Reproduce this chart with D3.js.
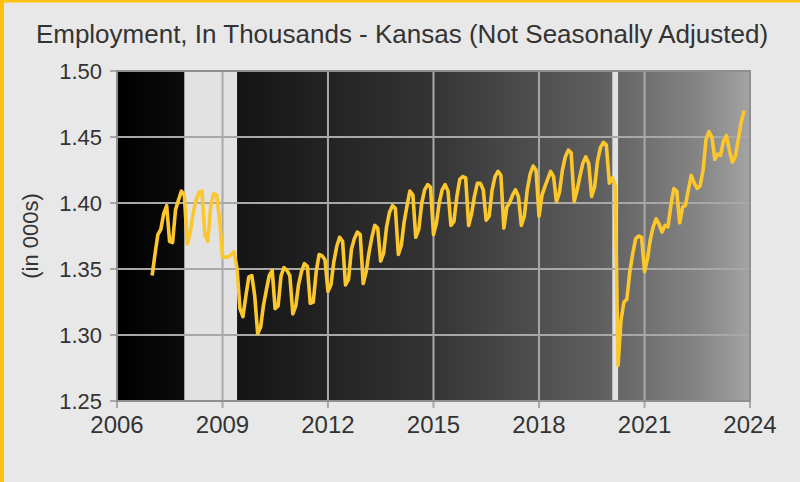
<!DOCTYPE html>
<html>
<head>
<meta charset="utf-8">
<script src="https://cdn.jsdelivr.net/npm/d3@7/dist/d3.min.js"></script>
<style>
  html, body { margin: 0; padding: 0; background: #e8e8e8; }
  svg { display: block; font-family: "Liberation Sans", Arial, sans-serif; }
</style>
</head>
<body>
<svg id="chart" width="800" height="482"></svg>
<script>
// Kansas nonfarm employment, monthly, not seasonally adjusted (millions)
const firstMonth = "2007-01";
const employment = [
  // 2007
  1.345, 1.362, 1.376, 1.380, 1.392, 1.398, 1.371, 1.370, 1.395, 1.402, 1.409, 1.406,
  // 2008
  1.369, 1.378, 1.392, 1.402, 1.408, 1.409, 1.376, 1.371, 1.398, 1.407, 1.406, 1.388,
  // 2009
  1.359, 1.359, 1.359, 1.361, 1.363, 1.350, 1.320, 1.314, 1.330, 1.344, 1.345, 1.330,
  // 2010
  1.301, 1.306, 1.322, 1.334, 1.345, 1.349, 1.320, 1.322, 1.345, 1.351, 1.349, 1.345,
  // 2011
  1.316, 1.322, 1.338, 1.348, 1.354, 1.352, 1.324, 1.325, 1.348, 1.361, 1.360, 1.357,
  // 2012
  1.333, 1.338, 1.355, 1.367, 1.374, 1.371, 1.338, 1.342, 1.365, 1.373, 1.378, 1.376,
  // 2013
  1.339, 1.348, 1.362, 1.374, 1.383, 1.381, 1.356, 1.362, 1.382, 1.393, 1.398, 1.396,
  // 2014
  1.361, 1.368, 1.385, 1.398, 1.409, 1.406, 1.374, 1.380, 1.400, 1.410, 1.414, 1.412,
  // 2015
  1.376, 1.385, 1.400, 1.410, 1.414, 1.409, 1.383, 1.386, 1.405, 1.418, 1.420, 1.419,
  // 2016
  1.383, 1.392, 1.405, 1.415, 1.415, 1.410, 1.387, 1.390, 1.410, 1.420, 1.424, 1.421,
  // 2017
  1.381, 1.397, 1.400, 1.406, 1.410, 1.405, 1.383, 1.390, 1.410, 1.422, 1.428, 1.425,
  // 2018
  1.390, 1.406, 1.412, 1.418, 1.424, 1.420, 1.401, 1.408, 1.425, 1.435, 1.440, 1.438,
  // 2019
  1.401, 1.410, 1.420, 1.430, 1.435, 1.430, 1.405, 1.412, 1.432, 1.442, 1.446, 1.444,
  // 2020
  1.415, 1.419, 1.414, 1.277, 1.311, 1.325, 1.327, 1.348, 1.362, 1.373, 1.375, 1.374,
  // 2021
  1.348, 1.358, 1.372, 1.382, 1.388, 1.384, 1.378, 1.383, 1.382, 1.398, 1.411, 1.409,
  // 2022
  1.385, 1.397, 1.398, 1.410, 1.421, 1.415, 1.411, 1.413, 1.425, 1.448, 1.454, 1.450,
  // 2023
  1.433, 1.437, 1.436, 1.447, 1.451, 1.440, 1.431, 1.435, 1.448, 1.461, 1.470
];

// Recession periods (start month, end month)
const recessions = [["2007-12", "2009-06"], ["2020-02", "2020-04"]];

const xTicks = [2006, 2009, 2012, 2015, 2018, 2021, 2024];
const yTicks = [1.25, 1.30, 1.35, 1.40, 1.45, 1.50];

const titleText = "Employment, In Thousands - Kansas (Not Seasonally Adjusted)";
const yLabelText = "(in 000s)";

const parseMonth = d3.timeParse("%Y-%m");
const start = parseMonth(firstMonth);
const series = employment.map((v, i) => ({ date: d3.timeMonth.offset(start, i), value: v }));

const svg = d3.select("#chart");
const W = 800, H = 482;
const plot = { left: 117, right: 750, top: 71, bottom: 401 };

// Page background and gold edge
svg.append("rect").attr("width", W).attr("height", H).attr("fill", "#e8e8e8");
svg.append("rect").attr("x", 0).attr("y", 0).attr("width", W).attr("height", 2.5).attr("fill", "#ffc20e");
svg.append("rect").attr("x", 0).attr("y", 0).attr("width", 4).attr("height", H).attr("fill", "#ffc20e");

const x = d3.scaleTime()
  .domain([new Date(xTicks[0], 0, 1), new Date(xTicks[xTicks.length - 1], 0, 1)])
  .range([plot.left, plot.right]);
const y = d3.scaleLinear()
  .domain([yTicks[0], yTicks[yTicks.length - 1]])
  .range([plot.bottom, plot.top]);

// Plot background: dark-to-light gradient
const defs = svg.append("defs");
const grad = defs.append("linearGradient").attr("id", "bg")
  .attr("x1", "0%").attr("x2", "100%").attr("y1", "0%").attr("y2", "0%");
[[0, "#000000"], [0.19, "#141414"], [0.49, "#333333"], [0.76, "#5e5e5e"], [0.92, "#858585"], [1, "#a4a4a4"]]
  .forEach(([o, c]) => grad.append("stop").attr("offset", o).attr("stop-color", c));

svg.append("rect")
  .attr("x", plot.left).attr("y", plot.top)
  .attr("width", plot.right - plot.left).attr("height", plot.bottom - plot.top)
  .attr("fill", "url(#bg)");

// Recession bands
svg.append("g").selectAll("rect").data(recessions).join("rect")
  .attr("x", d => x(parseMonth(d[0])))
  .attr("width", d => x(parseMonth(d[1])) - x(parseMonth(d[0])))
  .attr("y", plot.top).attr("height", plot.bottom - plot.top)
  .attr("fill", "#e2e2e2");

// Grid lines
const gridColor = "#a8a8a8";
svg.append("g").selectAll("line").data(yTicks).join("line")
  .attr("x1", plot.left - 7).attr("x2", plot.right)
  .attr("y1", d => y(d)).attr("y2", d => y(d))
  .attr("stroke", gridColor).attr("stroke-width", 2);
svg.append("g").selectAll("line").data(xTicks).join("line")
  .attr("x1", d => x(new Date(d, 0, 1))).attr("x2", d => x(new Date(d, 0, 1)))
  .attr("y1", plot.top).attr("y2", plot.bottom + 7)
  .attr("stroke", gridColor).attr("stroke-width", 2);

// Frame
svg.append("rect")
  .attr("x", plot.left).attr("y", plot.top)
  .attr("width", plot.right - plot.left).attr("height", plot.bottom - plot.top)
  .attr("fill", "none").attr("stroke", "#8f8f8f").attr("stroke-width", 2);

// Employment line
svg.append("path")
  .datum(series)
  .attr("fill", "none")
  .attr("stroke", "#fcc72c")
  .attr("stroke-width", 3.6)
  .attr("stroke-linejoin", "round")
  .attr("d", d3.line().x(d => x(d.date)).y(d => y(d.value)));

// Axes labels
const textColor = "#333333";
svg.append("g").selectAll("text").data(yTicks).join("text")
  .attr("x", plot.left - 15).attr("y", d => y(d) + 8)
  .attr("text-anchor", "end")
  .attr("font-size", 22).attr("fill", textColor)
  .text(d => d3.format(".2f")(d));

svg.append("g").selectAll("text").data(xTicks).join("text")
  .attr("x", d => x(new Date(d, 0, 1))).attr("y", plot.bottom + 32)
  .attr("text-anchor", "middle")
  .attr("font-size", 24).attr("fill", textColor)
  .text(d => d);

svg.append("text")
  .attr("x", 402).attr("y", 43)
  .attr("text-anchor", "middle")
  .attr("font-size", 26).attr("fill", textColor)
  .text(titleText);

svg.append("text")
  .attr("transform", `translate(38, ${(plot.top + plot.bottom) / 2}) rotate(-90)`)
  .attr("text-anchor", "middle")
  .attr("font-size", 22).attr("fill", textColor)
  .text(yLabelText);
</script>
</body>
</html>
